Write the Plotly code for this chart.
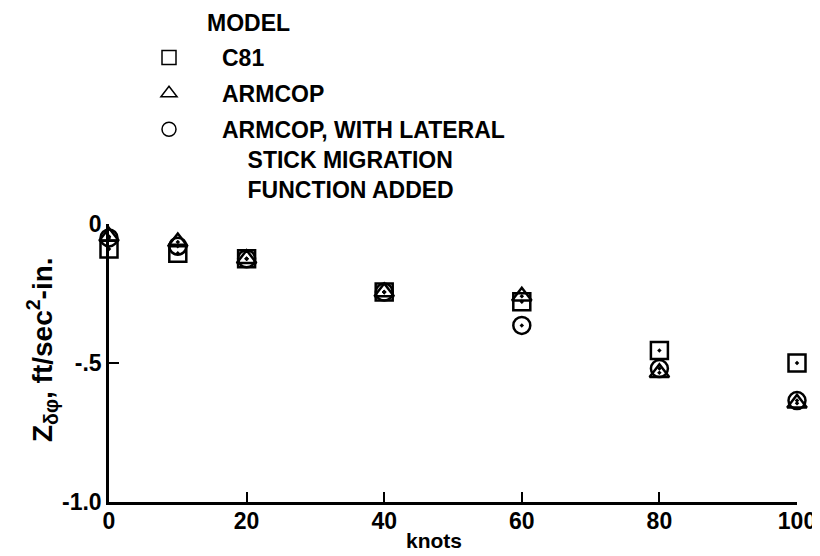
import plotly.graph_objects as go

speed_knots = [0, 10, 20, 40, 60, 80, 100]
z_c81 = [-0.09, -0.105, -0.125, -0.245, -0.28, -0.455, -0.50]
z_armcop = [-0.045, -0.065, -0.125, -0.245, -0.26, -0.535, -0.645]
z_armcop_lsm = [-0.05, -0.08, -0.125, -0.245, -0.365, -0.52, -0.635]

y_tick_vals = [0, -0.5, -1.0]
y_tick_text = ["0", "-.5", "-1.0"]
x_tick_vals = [0, 20, 40, 60, 80, 100]

FONT = "Liberation Sans"
INK = "black"

series = [
    ("C81", z_c81, "square"),
    ("ARMCOP", z_armcop, "triangle-up"),
    ("ARMCOP, WITH LATERAL<br>    STICK MIGRATION<br>    FUNCTION ADDED", z_armcop_lsm, "circle"),
]

fig = go.Figure()
for i, (name, vals, sym) in enumerate(series):
    # data marks (hollow with centre dot, as plotted)
    fig.add_trace(go.Scatter(
        x=speed_knots, y=vals, mode="markers", name=name, showlegend=False,
        cliponaxis=False, legendgroup=f"g{i}",
        marker=dict(symbol=sym + "-open-dot", size=17, color=INK,
                    line=dict(color=INK, width=2.5)),
    ))
    # key entry (plain hollow symbol)
    fig.add_trace(go.Scatter(
        x=[None], y=[None], mode="markers", name=name, legendgroup=f"g{i}",
        marker=dict(symbol=sym + "-open", size=14, color=INK,
                    line=dict(color=INK, width=1.5)),
    ))

# page body has an 8px margin, so the figure is 8px smaller each way
fig.update_layout(
    width=812, height=548,
    margin=dict(l=101, r=23, t=216, b=54, autoexpand=False),
    paper_bgcolor="white", plot_bgcolor="white",
    font=dict(family=FONT, size=23, color=INK, weight="bold"),
    showlegend=True,
    legend=dict(
        x=(116 - 109) / 688, y=1 + (224 - 36) / 278,
        xanchor="left", yanchor="top",
        bgcolor="rgba(0,0,0,0)", valign="top",
        itemwidth=96, tracegroupgap=3, traceorder="grouped",
        font=dict(family=FONT, size=23, color=INK, weight="bold"),
    ),
    xaxis=dict(
        range=[0, 100], tickvals=x_tick_vals, ticks="inside", ticklen=10,
        tickwidth=2, tickcolor=INK, showline=True, linecolor=INK, linewidth=2.5,
        showgrid=False, zeroline=False, ticklabelstandoff=-3,
        tickfont=dict(size=23),
    ),
    yaxis=dict(
        range=[-1.0, 0], tickvals=y_tick_vals, ticktext=y_tick_text,
        ticks="inside", ticklen=10, tickwidth=2, tickcolor=INK,
        showline=True, linecolor=INK, linewidth=2.5,
        showgrid=False, zeroline=False, ticklabelstandoff=0,
        tickfont=dict(size=23),
    ),
)

fig.add_annotation(
    text="MODEL", xref="paper", yref="paper",
    x=(205 - 109) / 688, y=1 + (224 - 23) / 278,
    xanchor="left", yanchor="middle", showarrow=False,
    font=dict(size=23),
)
fig.add_annotation(
    text="knots", xref="paper", yref="paper",
    x=(434 - 109) / 688, y=-(540 - 502) / 278,
    xanchor="center", yanchor="middle", showarrow=False,
    font=dict(size=21),
)
fig.add_annotation(
    text="Z<sub>δφ</sub>, ft/sec<sup>2</sup>-in.", xref="paper", yref="paper",
    x=(42 - 109) / 688, y=(502 - 350) / 278, textangle=-90,
    xanchor="center", yanchor="middle", showarrow=False,
    font=dict(size=28),
)

fig.write_html("out.html")
